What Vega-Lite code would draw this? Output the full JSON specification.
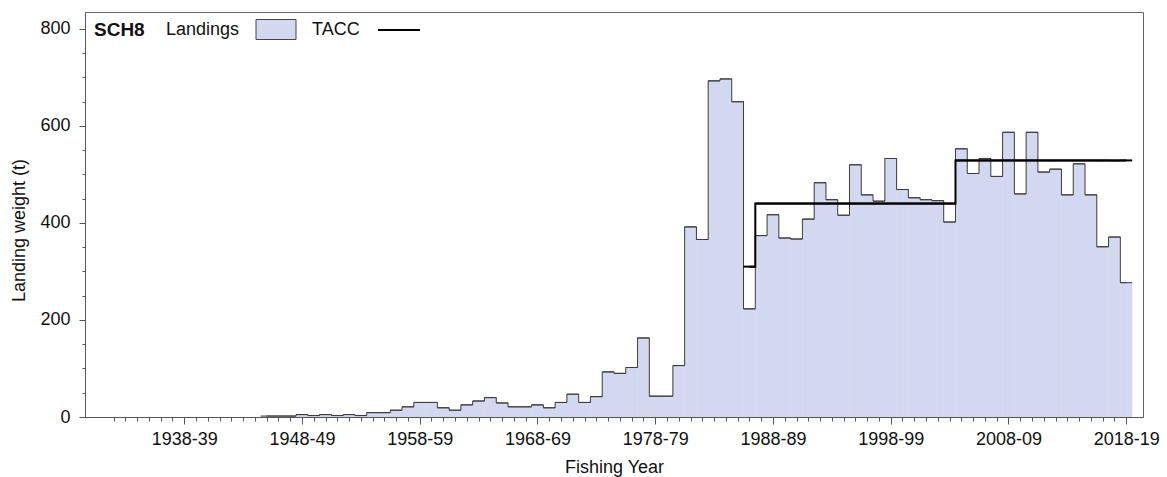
{
  "$schema": "https://vega.github.io/schema/vega-lite/v6.json",
  "width": 1058,
  "height": 405,
  "autosize": {"type": "none"},
  "padding": {"left": 85, "top": 12, "right": 24, "bottom": 60},
  "background": "white",
  "config": {
    "font": "Liberation Sans",
    "view": {"stroke": "#666666", "strokeWidth": 1},
    "axis": {
      "labelFont": "Liberation Sans",
      "labelFontSize": 18,
      "labelColor": "#111111",
      "titleFont": "Liberation Sans",
      "titleFontSize": 18,
      "titleFontWeight": "normal",
      "titleColor": "#111111",
      "grid": false,
      "domainColor": "#555555",
      "tickColor": "#555555"
    },
    "legend": {
      "labelFont": "Liberation Sans",
      "labelFontSize": 18,
      "labelColor": "#111111",
      "titleFont": "Liberation Sans",
      "titleFontSize": 19,
      "titleFontWeight": "bold",
      "titleColor": "#111111"
    }
  },
  "resolve": {"axis": {"x": "independent", "y": "independent"}},
  "data": {
    "values": [
      {"year": 1945, "landings": 2, "tacc": null},
      {"year": 1946, "landings": 2, "tacc": null},
      {"year": 1947, "landings": 2, "tacc": null},
      {"year": 1948, "landings": 5, "tacc": null},
      {"year": 1949, "landings": 3, "tacc": null},
      {"year": 1950, "landings": 5, "tacc": null},
      {"year": 1951, "landings": 3, "tacc": null},
      {"year": 1952, "landings": 5, "tacc": null},
      {"year": 1953, "landings": 3, "tacc": null},
      {"year": 1954, "landings": 9, "tacc": null},
      {"year": 1955, "landings": 9, "tacc": null},
      {"year": 1956, "landings": 14, "tacc": null},
      {"year": 1957, "landings": 21, "tacc": null},
      {"year": 1958, "landings": 30, "tacc": null},
      {"year": 1959, "landings": 30, "tacc": null},
      {"year": 1960, "landings": 19, "tacc": null},
      {"year": 1961, "landings": 14, "tacc": null},
      {"year": 1962, "landings": 25, "tacc": null},
      {"year": 1963, "landings": 33, "tacc": null},
      {"year": 1964, "landings": 40, "tacc": null},
      {"year": 1965, "landings": 29, "tacc": null},
      {"year": 1966, "landings": 21, "tacc": null},
      {"year": 1967, "landings": 21, "tacc": null},
      {"year": 1968, "landings": 25, "tacc": null},
      {"year": 1969, "landings": 19, "tacc": null},
      {"year": 1970, "landings": 30, "tacc": null},
      {"year": 1971, "landings": 47, "tacc": null},
      {"year": 1972, "landings": 30, "tacc": null},
      {"year": 1973, "landings": 42, "tacc": null},
      {"year": 1974, "landings": 93, "tacc": null},
      {"year": 1975, "landings": 90, "tacc": null},
      {"year": 1976, "landings": 102, "tacc": null},
      {"year": 1977, "landings": 163, "tacc": null},
      {"year": 1978, "landings": 43, "tacc": null},
      {"year": 1979, "landings": 43, "tacc": null},
      {"year": 1980, "landings": 106, "tacc": null},
      {"year": 1981, "landings": 392, "tacc": null},
      {"year": 1982, "landings": 366, "tacc": null},
      {"year": 1983, "landings": 693, "tacc": null},
      {"year": 1984, "landings": 697, "tacc": null},
      {"year": 1985, "landings": 650, "tacc": null},
      {"year": 1986, "landings": 223, "tacc": 310},
      {"year": 1987, "landings": 374, "tacc": 440},
      {"year": 1988, "landings": 417, "tacc": 440},
      {"year": 1989, "landings": 369, "tacc": 440},
      {"year": 1990, "landings": 367, "tacc": 440},
      {"year": 1991, "landings": 408, "tacc": 440},
      {"year": 1992, "landings": 483, "tacc": 440},
      {"year": 1993, "landings": 448, "tacc": 440},
      {"year": 1994, "landings": 416, "tacc": 440},
      {"year": 1995, "landings": 520, "tacc": 440},
      {"year": 1996, "landings": 458, "tacc": 440},
      {"year": 1997, "landings": 445, "tacc": 440},
      {"year": 1998, "landings": 533, "tacc": 440},
      {"year": 1999, "landings": 469, "tacc": 440},
      {"year": 2000, "landings": 452, "tacc": 440},
      {"year": 2001, "landings": 448, "tacc": 440},
      {"year": 2002, "landings": 446, "tacc": 440},
      {"year": 2003, "landings": 402, "tacc": 440},
      {"year": 2004, "landings": 553, "tacc": 529},
      {"year": 2005, "landings": 502, "tacc": 529},
      {"year": 2006, "landings": 533, "tacc": 529},
      {"year": 2007, "landings": 496, "tacc": 529},
      {"year": 2008, "landings": 587, "tacc": 529},
      {"year": 2009, "landings": 460, "tacc": 529},
      {"year": 2010, "landings": 587, "tacc": 529},
      {"year": 2011, "landings": 505, "tacc": 529},
      {"year": 2012, "landings": 511, "tacc": 529},
      {"year": 2013, "landings": 458, "tacc": 529},
      {"year": 2014, "landings": 522, "tacc": 529},
      {"year": 2015, "landings": 458, "tacc": 529},
      {"year": 2016, "landings": 351, "tacc": 529},
      {"year": 2017, "landings": 371, "tacc": 529},
      {"year": 2018, "landings": 277, "tacc": 529}
    ]
  },
  "layer": [
    {
      "mark": {"type": "bar", "width": 12.2, "opacity": 1},
      "encoding": {
        "x": {
          "field": "year",
          "type": "quantitative",
          "scale": {"domain": [1930, 2019], "nice": false, "zero": false},
          "axis": {
            "orient": "bottom",
            "title": "Fishing Year",
            "values": [1938, 1948, 1958, 1968, 1978, 1988, 1998, 2008, 2018],
            "tickSize": 7,
            "labelExpr": "datum.value + '-' + substring(toString(datum.value + 1), 2)",
            "labelOverlap": false,
            "labelFlush": false,
            "labelBound": false,
            "labelPadding": 6,
            "titlePadding": 10
          }
        },
        "y": {
          "field": "landings",
          "type": "quantitative",
          "scale": {"domain": [0, 835], "nice": false, "zero": true},
          "axis": {
            "orient": "left",
            "title": "Landing weight (t)",
            "values": [0, 200, 400, 600, 800],
            "tickSize": 6,
            "labelPadding": 9,
            "titlePadding": 11,
            "titleY": 218
          }
        },
        "fill": {
          "datum": "Landings",
          "type": "nominal",
          "scale": {"domain": ["Landings"], "range": ["#d3d8f1"]},
          "legend": {
            "title": "SCH8",
            "orient": "none",
            "legendX": 9,
            "legendY": 7,
            "direction": "horizontal",
            "titleOrient": "left",
            "titlePadding": 21,
            "padding": 0,
            "symbolType": "M-2,-1H2V1H-2Z",
            "symbolSize": 400,
            "symbolStrokeColor": "#444444",
            "symbolStrokeWidth": 1,
            "symbolOpacity": 1,
            "symbolOffset": 99.5,
            "labelOffset": -120.5
          }
        }
      }
    },
    {
      "mark": {"type": "line", "interpolate": "step", "color": "#3c3c3c", "strokeWidth": 1},
      "encoding": {
        "x": {
          "field": "year",
          "type": "quantitative",
          "axis": {
            "orient": "bottom",
            "title": null,
            "values": [1932,1933,1934,1935,1936,1937,1938,1939,1940,1941,1942,1943,1944,1945,1946,1947,1948,1949,1950,1951,1952,1953,1954,1955,1956,1957,1958,1959,1960,1961,1962,1963,1964,1965,1966,1967,1968,1969,1970,1971,1972,1973,1974,1975,1976,1977,1978,1979,1980,1981,1982,1983,1984,1985,1986,1987,1988,1989,1990,1991,1992,1993,1994,1995,1996,1997,1998,1999,2000,2001,2002,2003,2004,2005,2006,2007,2008,2009,2010,2011,2012,2013,2014,2015,2016,2017,2018],
            "tickSize": 4,
            "labels": false,
            "domain": false
          }
        },
        "y": {
          "field": "landings",
          "type": "quantitative",
          "axis": {
            "orient": "left",
            "title": null,
            "values": [50,100,150,250,300,350,450,500,550,650,700,750],
            "tickSize": 3,
            "labels": false,
            "domain": false
          }
        }
      }
    },
    {
      "mark": {"type": "tick", "orient": "horizontal", "size": 11.89, "thickness": 1, "color": "#3c3c3c", "opacity": 1},
      "encoding": {
        "x": {"field": "year", "type": "quantitative", "axis": null},
        "y": {"field": "landings", "type": "quantitative", "axis": null}
      }
    },
    {
      "mark": {"type": "line", "interpolate": "step", "strokeWidth": 2},
      "encoding": {
        "x": {"field": "year", "type": "quantitative", "axis": null},
        "y": {"field": "tacc", "type": "quantitative", "axis": null},
        "stroke": {
          "datum": "TACC",
          "type": "nominal",
          "scale": {"domain": ["TACC"], "range": ["#000000"]},
          "legend": {
            "title": null,
            "orient": "none",
            "legendX": 227,
            "legendY": 7,
            "direction": "horizontal",
            "padding": 0,
            "symbolType": "M-2.1,0H2.1",
            "symbolSize": 400,
            "symbolStrokeWidth": 2,
            "symbolOpacity": 1,
            "symbolOffset": 76,
            "labelOffset": -98
          }
        }
      }
    },
    {
      "mark": {"type": "tick", "orient": "horizontal", "size": 11.89, "thickness": 2, "color": "#000000", "opacity": 1},
      "encoding": {
        "x": {"field": "year", "type": "quantitative", "axis": null},
        "y": {"field": "tacc", "type": "quantitative", "axis": null}
      }
    }
  ]
}
